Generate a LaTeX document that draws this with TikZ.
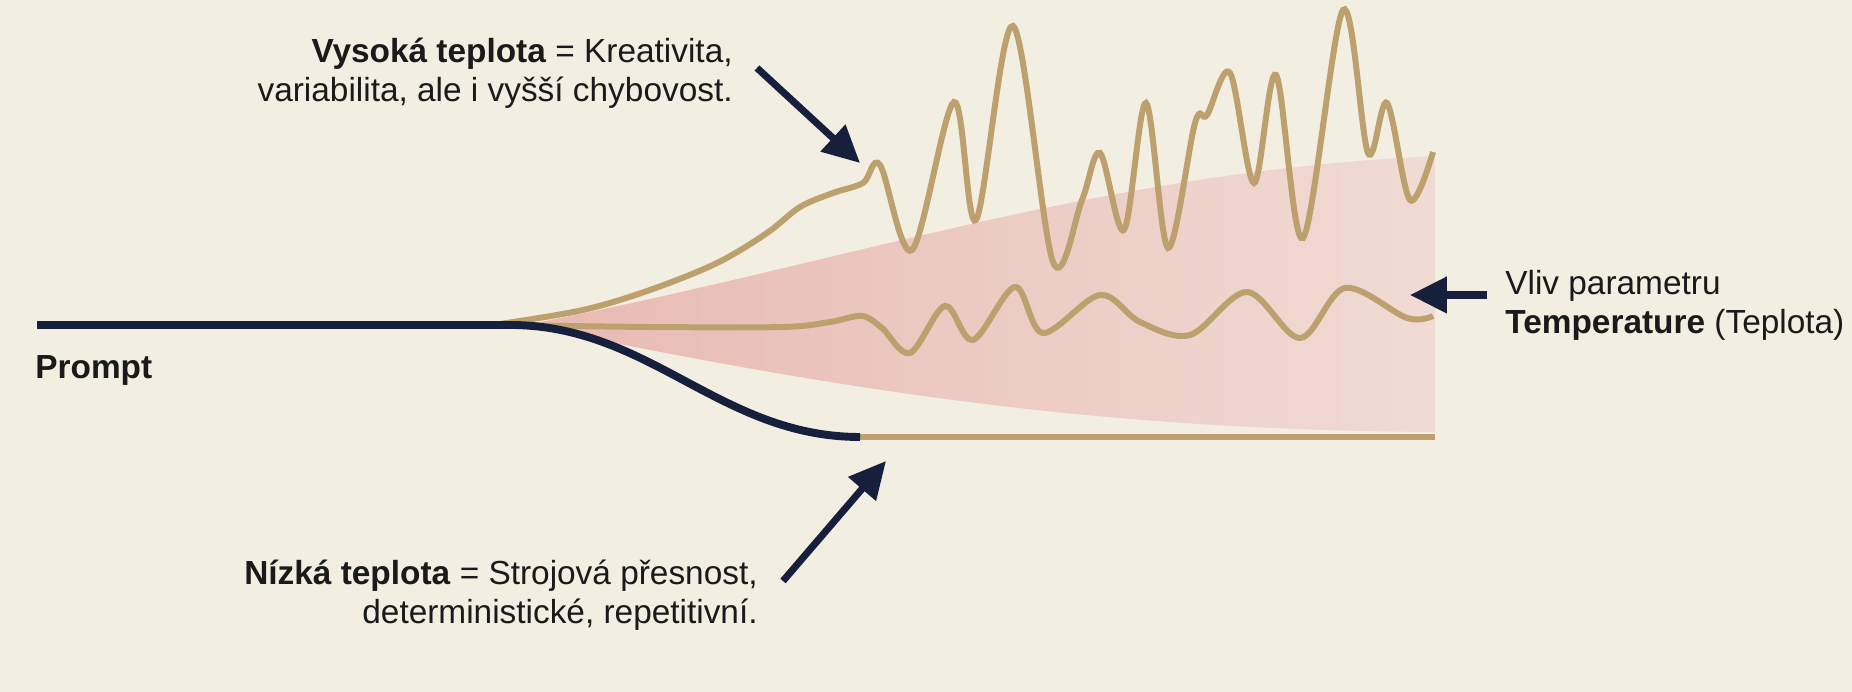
\documentclass[tikz,border=0pt]{standalone}
\usepackage{fontspec}
\setmainfont{Liberation Sans}
\usetikzlibrary{arrows.meta}

\definecolor{cream}{RGB}{242,238,226}
\definecolor{navy}{RGB}{22,32,60}
\definecolor{gold}{RGB}{188,160,110}
\definecolor{rosedark}{RGB}{232,186,178}
\definecolor{roselight}{RGB}{240,219,212}
\definecolor{ink}{RGB}{26,26,26}

\begin{document}
\begin{tikzpicture}[x=2cm, y=2cm,
    label/.style={font=\fontsize{19}{22.2}\selectfont, text=ink, inner sep=0pt},
    wave/.style={gold, line width=3.4pt, smooth, tension=0.55},
    pointer/.style={-{Triangle[length=21pt,width=20pt]}, navy, line width=4pt}]
    % Background
    \fill[cream] (0,0) rectangle (18.52,6.92);
    \useasboundingbox (0,0) rectangle (18.52,6.92);

    % Fan of possible outputs
    \shade[left color=rosedark, right color=roselight]
        (5.3,3.68) .. controls (8.5,4.3) and (11,5.2) .. (14.35,5.36)
        -- (14.35,2.6) .. controls (11,2.62) and (8.5,3.0) .. (5.3,3.66) -- cycle;

    % High temperature path
    \draw[wave] plot coordinates {(5.00,3.68) (5.83,3.82) (6.50,4.02) (7.17,4.29)
        (7.67,4.59) (8.00,4.85) (8.33,4.99) (8.63,5.09) (8.80,5.27) (9.12,4.42)
        (9.54,5.90) (9.76,4.72) (10.13,6.66) (10.53,4.30) (10.82,4.92) (11.00,5.39)
        (11.24,4.62) (11.46,5.89) (11.68,4.44) (11.95,5.69) (12.07,5.77) (12.30,6.19)
        (12.54,5.09) (12.76,6.17) (13.03,4.54) (13.43,6.82) (13.68,5.39) (13.87,5.89)
        (14.10,4.92) (14.33,5.40)};

    % Medium temperature path
    \draw[wave] plot coordinates {(5.00,3.67) (6.50,3.65) (7.83,3.65) (8.30,3.70)
        (8.62,3.76) (8.82,3.64) (9.10,3.39) (9.45,3.86) (9.73,3.52) (10.15,4.05)
        (10.43,3.59) (11.00,3.97) (11.40,3.70) (11.90,3.57) (12.47,4.00) (13.00,3.54)
        (13.45,4.04) (14.07,3.74) (14.33,3.76)};

    % Low temperature path
    \coordinate (start) at (0.37,3.67);
    \coordinate (split) at (5.10,3.67);
    \coordinate (lowjoin) at (8.60,2.55);
    \coordinate (lowend) at (14.35,2.55);
    \draw[gold, line width=3.8pt] (lowjoin) -- (lowend);
    \draw[navy, line width=4.5pt] (start) -- (split)
        .. controls (6.50,3.67) and (7.20,2.55) .. (lowjoin);

    % Labels
    \node[label, font=\fontsize{19}{22.2}\selectfont\bfseries, anchor=west] (prompt) at (0.35,3.22) {Prompt};
    \node[label, anchor=east, align=right] (hightext) at (7.33,6.19)
        {\textbf{Vysoká teplota} = Kreativita,\\variabilita, ale i vyšší chybovost.};
    \node[label, anchor=east, align=right] (lowtext) at (7.58,0.97)
        {\textbf{Nízká teplota} = Strojová přesnost,\\deterministické, repetitivní.};
    \node[label, anchor=west, align=left] (tempnote) at (15.05,3.87)
        {Vliv parametru\\\textbf{Temperature} (Teplota)};

    % Arrows
    \coordinate (hightip) at (8.60,5.29);
    \coordinate (lowtip) at (8.86,2.31);
    \coordinate (temptip) at (14.10,3.97);
    \draw[pointer] ([shift={(0.24,0.05)}]hightext.east) -- (hightip);
    \draw[pointer] ([shift={(0.25,0.14)}]lowtext.east) -- (lowtip);
    \draw[pointer] ([shift={(-0.18,0.10)}]tempnote.west) -- (temptip);
\end{tikzpicture}
\end{document}
